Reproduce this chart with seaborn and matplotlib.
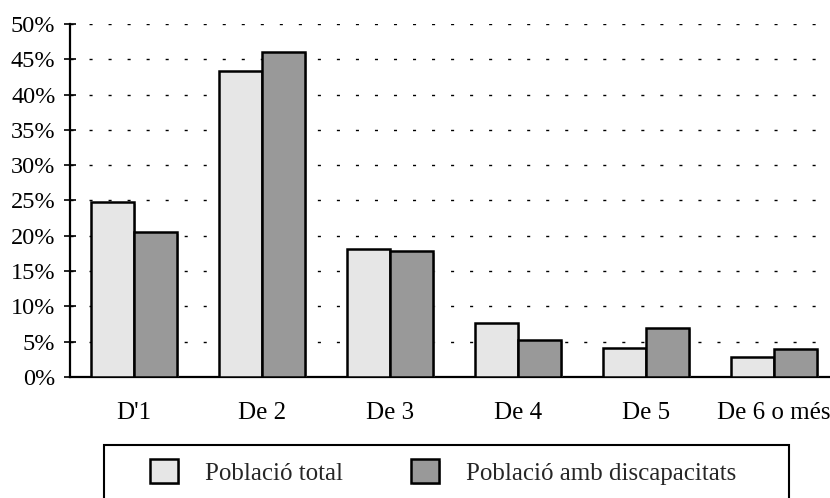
import pandas as pd
import seaborn as sns
from matplotlib import pyplot as plt
from matplotlib.patches import Rectangle
from matplotlib import patheffects

# data (percent)
categories = ["D'1", "De 2", "De 3", "De 4", "De 5", "De 6 o més"]
series_names = ["Població total", "Població amb discapacitats"]
total = [24.8, 43.3, 18.1, 7.6, 4.1, 2.9]
discap = [20.5, 46.1, 17.8, 5.3, 7.0, 4.0]
y_ticks = [0, 5, 10, 15, 20, 25, 30, 35, 40, 45, 50]

df = pd.DataFrame({
    "grup": categories * 2,
    "serie": [series_names[0]] * len(categories) + [series_names[1]] * len(categories),
    "valor": total + discap,
})

sns.set_style("white")
plt.rcParams["font.family"] = ["Liberation Serif", "DejaVu Serif"]

fig = plt.figure(figsize=(8.3, 4.98), dpi=100)
ax = fig.add_axes([70 / 830, 1 - 377 / 498, 768 / 830, 353 / 498])

sns.barplot(data=df, x="grup", y="valor", hue="serie", order=categories,
            hue_order=series_names, palette=["#e6e6e6", "#999999"],
            width=0.67, gap=0, edgecolor="black", linewidth=1.8,
            saturation=1, ax=ax, zorder=3)

shadow = [patheffects.SimplePatchShadow(offset=(1.2, -1.2), shadow_rgbFace="#b0b0b0", alpha=0.8),
          patheffects.Normal()]
for p in ax.patches:
    p.set_path_effects(shadow)

ax.set_ylim(0, 50)
ax.set_yticks(y_ticks)
ax.set_yticklabels([f"{t}%" for t in y_ticks])
ax.set_xlim(-0.5, len(categories) - 0.5)
ax.set_xlabel("")
ax.set_ylabel("")

ax.yaxis.grid(True, color="black", linewidth=1.0, linestyle=(0, (2.2, 11.5)))
ax.set_axisbelow(True)

for side in ["top", "right"]:
    ax.spines[side].set_visible(False)
for side in ["left", "bottom"]:
    ax.spines[side].set_linewidth(1.6)
    ax.spines[side].set_color("black")

ax.tick_params(axis="y", direction="inout", length=9, width=1.2, pad=6,
               labelsize=17.5, left=True, colors="black")
ax.tick_params(axis="x", length=0, pad=18, labelsize=18, colors="black")

handles, labels = ax.get_legend_handles_labels()
ax.get_legend().remove()
fig.legend(handles, labels, loc="center left",
           bbox_to_anchor=(150 / 830, 1 - 472 / 498), ncol=2, frameon=False,
           fontsize=18, handlelength=1.12, handleheight=1.08,
           handletextpad=1.08, columnspacing=2.72, borderpad=0, borderaxespad=0)

fig.add_artist(Rectangle((104 / 830, -0.05), 685 / 830, 0.05 + 1 - 445 / 498,
                         transform=fig.transFigure, fill=False,
                         edgecolor="black", linewidth=1.5))

fig.savefig("out.png", dpi=100)
